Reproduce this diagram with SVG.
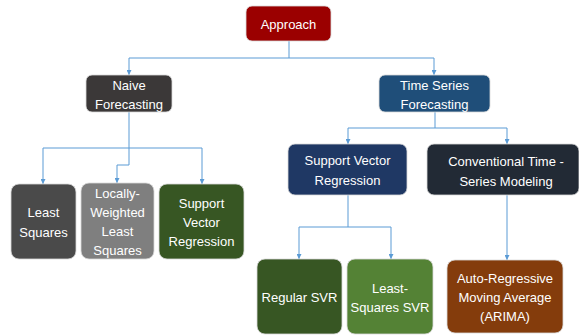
<svg xmlns="http://www.w3.org/2000/svg" width="579" height="335" viewBox="0 0 579 335">
<defs>
<marker id="arr" viewBox="0 0 6 6" refX="6" refY="3" markerWidth="5" markerHeight="5" markerUnits="userSpaceOnUse" orient="auto">
<path d="M0,0 L6,3 L0,6 Z" fill="#5b9bd5"/>
</marker>
<style>
.box{stroke:#d9d9d9;stroke-width:0.8}
.t{font-family:"Liberation Sans",Arial,sans-serif;font-size:13px;fill:#ffffff;text-anchor:middle}
.c{fill:none;stroke:#5b9bd5;stroke-width:1}
</style>
</defs>
<rect width="579" height="335" fill="#ffffff"/>
<g id="connectors">
<path class="c" d="M289,41 V58 M129,58 H434"/>
<path class="c" d="M129,58 V75" marker-end="url(#arr)"/>
<path class="c" d="M434,58 V75" marker-end="url(#arr)"/>
<path class="c" d="M129,112 V148 M43,148 H202"/>
<path class="c" d="M43,148 V184" marker-end="url(#arr)"/>
<path class="c" d="M202,148 V184" marker-end="url(#arr)"/>
<path class="c" d="M129,148 V165 H117 V183" marker-end="url(#arr)"/>
<path class="c" d="M435,112 V128 M348,128 H507"/>
<path class="c" d="M348,128 V144" marker-end="url(#arr)"/>
<path class="c" d="M507,128 V144" marker-end="url(#arr)"/>
<path class="c" d="M348,195 V227 M299,227 H391"/>
<path class="c" d="M299,227 V259" marker-end="url(#arr)"/>
<path class="c" d="M391,227 V259" marker-end="url(#arr)"/>
<path class="c" d="M507,195 V260" marker-end="url(#arr)"/>
</g>
<g id="approach">
<rect class="box" x="246" y="6" width="85" height="35" rx="6" fill="#9b0000"/>
<text class="t" x="288.5" y="28.5">Approach</text>
</g>
<g id="naive">
<rect class="box" x="86" y="75" width="86" height="37" rx="6" fill="#3b3838"/>
<text class="t" x="129" y="89.5">Naive</text>
<text class="t" x="129" y="108.5">Forecasting</text>
</g>
<g id="timeseries">
<rect class="box" x="379" y="75" width="111" height="37" rx="6" fill="#1f4e79"/>
<text class="t" x="434.5" y="89.5">Time Series</text>
<text class="t" x="434.5" y="108.5">Forecasting</text>
</g>
<g id="leastsquares">
<rect class="box" x="11" y="184" width="65" height="75" rx="8" fill="#4a4a4a"/>
<text class="t" x="43.5" y="216.5">Least</text>
<text class="t" x="43.5" y="236.5">Squares</text>
</g>
<g id="locally">
<rect class="box" x="81" y="183" width="73" height="76" rx="8" fill="#7f7f7f"/>
<text class="t" x="117.5" y="197.5">Locally-</text>
<text class="t" x="117.5" y="216.5">Weighted</text>
<text class="t" x="117.5" y="235.5">Least</text>
<text class="t" x="117.5" y="254.5">Squares</text>
</g>
<g id="svr-naive">
<rect class="box" x="159" y="184" width="85" height="75" rx="8" fill="#375623"/>
<text class="t" x="201.5" y="207.5">Support</text>
<text class="t" x="201.5" y="226.5">Vector</text>
<text class="t" x="201.5" y="245.5">Regression</text>
</g>
<g id="svr">
<rect class="box" x="288" y="144" width="119" height="51" rx="7" fill="#1f3864"/>
<text class="t" x="347.5" y="164.5">Support Vector</text>
<text class="t" x="347.5" y="184.5">Regression</text>
</g>
<g id="conventional">
<rect class="box" x="427" y="144" width="152" height="51" rx="7" fill="#222a35"/>
<text class="t" x="506" y="165.5">Conventional Time -</text>
<text class="t" x="506" y="185.5">Series Modeling</text>
</g>
<g id="regularsvr">
<rect class="box" x="257" y="259" width="85" height="75" rx="8" fill="#375623"/>
<text class="t" x="299.5" y="301.5">Regular SVR</text>
</g>
<g id="lssvr">
<rect class="box" x="347" y="259" width="86" height="75" rx="8" fill="#548235"/>
<text class="t" x="390" y="292.5">Least-</text>
<text class="t" x="390" y="311.5">Squares SVR</text>
</g>
<g id="arima">
<rect class="box" x="447" y="260" width="116" height="73" rx="8" fill="#843c0c"/>
<text class="t" x="505" y="282.5">Auto-Regressive</text>
<text class="t" x="505" y="301.5">Moving Average</text>
<text class="t" x="505" y="320.5">(ARIMA)</text>
</g>
</svg>
